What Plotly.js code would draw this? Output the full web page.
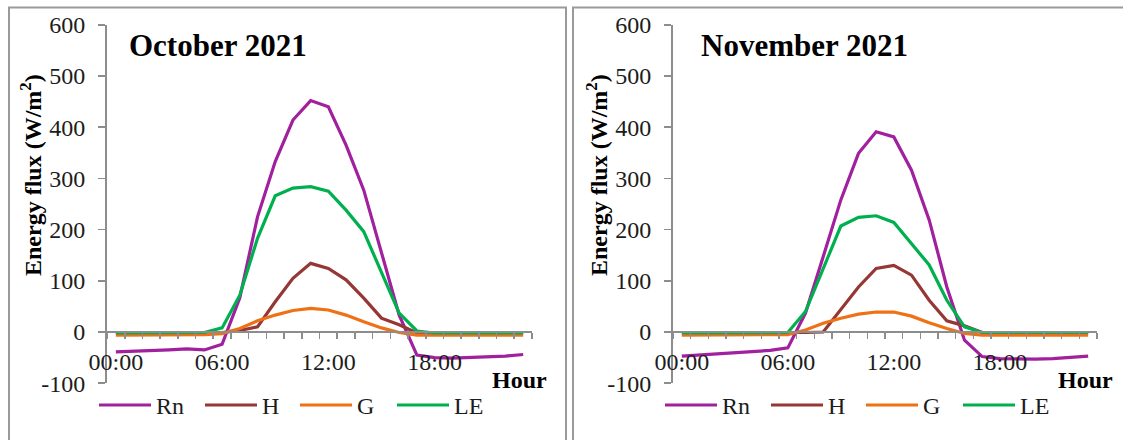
<!DOCTYPE html>
<html>
<head>
<meta charset="utf-8">
<script src="https://cdn.plot.ly/plotly-3.0.1.min.js"></script>
<style>
  html, body { margin: 0; padding: 0; background: #fff; overflow: hidden; }
  #chart { width: 1123px; height: 440px; }
</style>
</head>
<body>
<div id="chart"></div>
<script>
// ---------------- data ----------------
const hourLabels = ['00:00','01:00','02:00','03:00','04:00','05:00','06:00','07:00','08:00','09:00','10:00','11:00',
                    '12:00','13:00','14:00','15:00','16:00','17:00','18:00','19:00','20:00','21:00','22:00','23:00'];
const shownTicks = ['00:00','06:00','12:00','18:00'];
const yTickVals = [-100, 0, 100, 200, 300, 400, 500, 600];
const seriesNames = ['Rn','H','G','LE'];
const seriesColors = ['#a1209d','#953735','#ef7116','#00b04f'];
const panelTitles = ['October 2021','November 2021'];

const octRn = [-39,-38,-37,-35,-33,-35,-24,67,225,333,414,452,440,365,277,155,33,-45,-50,-51,-50,-48,-47,-44];
const octH  = [-2,-2,-2,-2,-2,-2,-1,3,10,59,105,134,124,102,66,27,14,-2,-2,-2,-2,-2,-2,-2];
const octG  = [-6,-6,-6,-6,-6,-5,-3,7,22,33,42,46,43,33,20,8,-1,-6,-6,-6,-6,-6,-6,-6];
const octLE = [-2,-2,-2,-2,-2,-1,8,72,183,266,281,284,275,238,196,116,37,2,-2,-2,-2,-2,-2,-2];

const novRn = [-47,-45,-43,-41,-39,-36,-31,37,147,258,349,391,381,316,219,88,-16,-48,-52,-53,-53,-52,-50,-47];
const novH  = [-2,-2,-2,-2,-2,-2,-2,-1,0,44,88,124,130,111,62,22,12,-1,-1,-1,-1,-1,-1,-1];
const novG  = [-6,-6,-6,-6,-6,-6,-5,4,17,27,35,39,39,31,18,7,-3,-6,-6,-6,-6,-6,-6,-6];
const novLE = [-2,-2,-2,-2,-2,-2,-1,40,124,207,224,227,214,173,131,62,10,-1,-1,-1,-1,-1,-1,-1];

const panels = [[octRn, octH, octG, octLE], [novRn, novH, novG, novLE]];

// ---------------- geometry ----------------
const W = 1123, H = 440;
const axStartPx = [107, 673];
const axEndPx = [532, 1097];
const yTopPx = 24.8, yBotPx = 383.2;
const yRange = [yTickVals[0], yTickVals[yTickVals.length - 1]];
const yDom = [1 - yBotPx / H, 1 - yTopPx / H];
const xAxisPos = yDom[0] + (yDom[1] - yDom[0]) * (0 - yRange[0]) / (yRange[1] - yRange[0]);

const xIdx = hourLabels.map((_, i) => i);
const tickIdx = shownTicks.map(t => hourLabels.indexOf(t));

const serif = 'Liberation Serif';
const gridGray = '#8d8d8d';
const textCol = '#1c1c1c';

const traces = [];
panels.forEach((series, p) => {
  series.forEach((vals, s) => {
    traces.push({
      type: 'scatter', mode: 'lines',
      x: xIdx, y: vals, name: seriesNames[s],
      xaxis: p === 0 ? 'x' : 'x2', yaxis: p === 0 ? 'y' : 'y2',
      line: { color: seriesColors[s], width: 3.2 },
      showlegend: false, hoverinfo: 'skip'
    });
  });
});

function xAxis(p) {
  return {
    domain: [axStartPx[p] / W, axEndPx[p] / W],
    anchor: 'free', position: xAxisPos,
    range: [-0.5, hourLabels.length - 0.5],
    tickmode: 'array', tickvals: tickIdx, ticktext: shownTicks,
    ticks: '', showline: true, linecolor: gridGray, linewidth: 2,
    showgrid: false, zeroline: false,
    tickfont: { family: serif, size: 24, color: textCol },
    ticklabelstandoff: 8,
    minor: { tick0: -0.5, dtick: 1, ticks: 'outside', ticklen: 6, tickwidth: 1.6, tickcolor: gridGray, showgrid: false },
    fixedrange: true
  };
}
function yAxis(p) {
  return {
    domain: yDom, anchor: p === 0 ? 'x' : 'x2',
    range: yRange, tickmode: 'array', tickvals: yTickVals, ticktext: yTickVals.map(v => String(v)),
    ticks: 'outside', ticklen: 7, tickwidth: 1.6, tickcolor: gridGray,
    showline: true, linecolor: gridGray, linewidth: 2,
    showgrid: false, zeroline: false,
    tickfont: { family: serif, size: 24, color: textCol },
    ticklabelstandoff: 8,
    fixedrange: true
  };
}

const legendOffsets = [-8, 98, 193, 290]; // px from axis start
const legendLineLen = 52;
const legendYpx = 405;
const titleOffsets = [20, 26];

const shapes = [];
const annotations = [];

// panel frames
shapes.push({ type: 'rect', xref: 'paper', yref: 'paper', x0: 9 / W, x1: 566 / W, y0: -0.2, y1: 1 - 7.5 / H,
  line: { color: '#9a9a9a', width: 2 }, fillcolor: 'rgba(0,0,0,0)', layer: 'below' });
shapes.push({ type: 'rect', xref: 'paper', yref: 'paper', x0: 573 / W, x1: 1.2, y0: -0.2, y1: 1 - 7.5 / H,
  line: { color: '#9a9a9a', width: 2 }, fillcolor: 'rgba(0,0,0,0)', layer: 'below' });

[0, 1].forEach(p => {
  // panel title
  annotations.push({ xref: 'paper', yref: 'paper', x: (axStartPx[p] + titleOffsets[p]) / W, y: 1 - 45 / H,
    xanchor: 'left', yanchor: 'middle', showarrow: false, text: '<b>' + panelTitles[p] + '</b>',
    font: { family: serif, size: 31, color: '#000' } });
  // y title
  annotations.push({ xref: 'paper', yref: 'paper', x: (axStartPx[p] - 76) / W, y: 1 - 175 / H,
    xanchor: 'center', yanchor: 'middle', showarrow: false, textangle: -90,
    text: '<b>Energy flux (W/m<sup>2</sup>)</b>',
    font: { family: serif, size: 24, color: '#000' } });
  // x title
  annotations.push({ xref: 'paper', yref: 'paper', x: (axStartPx[p] + 383) / W, y: 1 - 380 / H,
    xanchor: 'left', yanchor: 'middle', showarrow: false, text: '<b>Hour</b>',
    font: { family: serif, size: 24, color: '#000' } });
  // legend
  seriesNames.forEach((nm, s) => {
    const x0 = axStartPx[p] + legendOffsets[s];
    shapes.push({ type: 'line', xref: 'paper', yref: 'paper',
      x0: x0 / W, x1: (x0 + legendLineLen) / W, y0: 1 - legendYpx / H, y1: 1 - legendYpx / H,
      line: { color: seriesColors[s], width: 3.2 } });
    annotations.push({ xref: 'paper', yref: 'paper', x: (x0 + legendLineLen + 3) / W, y: 1 - (legendYpx + 1) / H,
      xanchor: 'left', yanchor: 'middle', showarrow: false, text: nm,
      font: { family: serif, size: 24, color: textCol } });
  });
});

const layout = {
  width: W, height: H,
  margin: { l: 0, r: 0, t: 0, b: 0 },
  paper_bgcolor: '#ffffff', plot_bgcolor: 'rgba(0,0,0,0)',
  showlegend: false,
  xaxis: xAxis(0), yaxis: yAxis(0),
  xaxis2: xAxis(1), yaxis2: yAxis(1),
  shapes: shapes, annotations: annotations
};

Plotly.newPlot('chart', traces, layout, { displayModeBar: false, staticPlot: true });
</script>
</body>
</html>
